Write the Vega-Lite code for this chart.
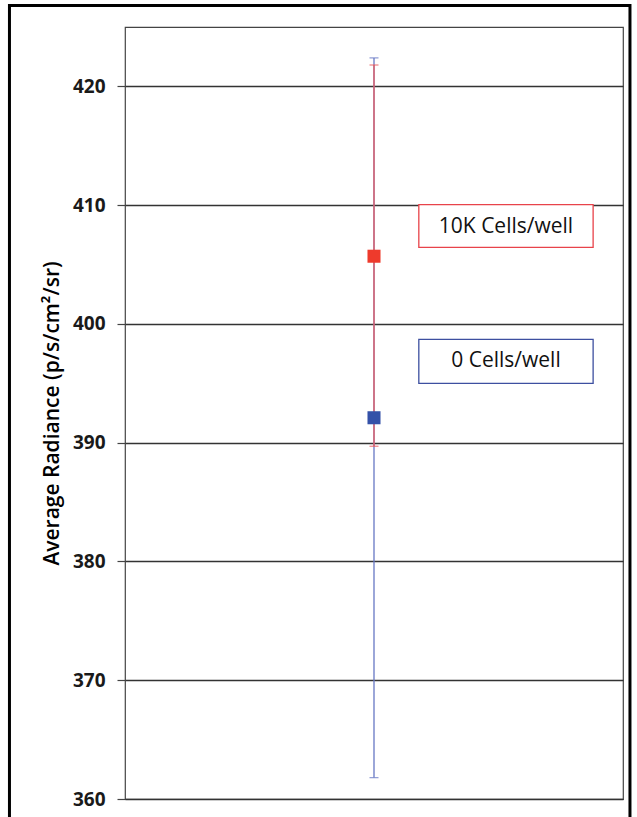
{
  "$schema": "https://vega.github.io/schema/vega-lite/v6.json",
  "width": 498,
  "height": 772,
  "autosize": {"type": "none"},
  "padding": {"left": 125, "top": 27, "right": 14, "bottom": 18},
  "background": "white",
  "config": {
    "view": {"stroke": "#444444", "strokeWidth": 1.2},
    "font": "Open Sans"
  },
  "datasets": {
    "series": [
      {"group": "0 Cells/well", "mean": 392.1, "lo": 361.8, "hi": 422.4, "pos": 0.5},
      {"group": "10K Cells/well", "mean": 405.7, "lo": 389.7, "hi": 421.8, "pos": 0.5}
    ],
    "labels": [
      {"group": "10K Cells/well", "x0": 0.59, "x1": 0.94, "y0": 406.45, "y1": 410.05, "tx": 0.765, "ty": 408.2},
      {"group": "0 Cells/well", "x0": 0.59, "x1": 0.94, "y0": 395.0, "y1": 398.7, "tx": 0.765, "ty": 396.85}
    ],
    "frame": [
      {"x0": -0.232, "x1": 1.014, "y0": 358.0, "y1": 426.8}
    ]
  },
  "layer": [
    {
      "data": {"name": "series"},
      "mark": {"type": "rule", "strokeWidth": 1.3},
      "encoding": {
        "x": {"field": "pos", "type": "quantitative", "scale": {"domain": [0, 1]}, "axis": null},
        "y": {
          "field": "lo", "type": "quantitative",
          "scale": {"domain": [360, 425], "nice": false, "zero": false},
          "axis": {
            "values": [360, 370, 380, 390, 400, 410, 420],
            "title": "Average Radiance (p/s/cm²/sr)",
            "titleFont": "Open Sans",
            "titleFontSize": 21,
            "titleFontWeight": 600,
            "titleColor": "#000000",
            "titlePadding": 10,
            "labelFont": "Open Sans",
            "labelFontSize": 19,
            "labelFontWeight": "bold",
            "labelColor": "#1a1a1a",
            "labelPadding": 12,
            "tickSize": 8,
            "tickColor": "#444444",
            "tickWidth": 1.2,
            "domain": false,
            "grid": true,
            "gridColor": "#333333",
            "gridWidth": 1.4
          }
        },
        "y2": {"field": "hi"},
        "color": {
          "field": "group", "type": "nominal",
          "scale": {"domain": ["0 Cells/well", "10K Cells/well"], "range": ["#6677C4", "#E85A5E"]},
          "legend": null
        }
      }
    },
    {
      "data": {"name": "series"},
      "mark": {"type": "tick", "orient": "horizontal", "size": 9, "thickness": 1.3},
      "encoding": {
        "x": {"field": "pos", "type": "quantitative"},
        "y": {"field": "hi", "type": "quantitative"},
        "color": {"field": "group", "type": "nominal", "legend": null}
      }
    },
    {
      "data": {"name": "series"},
      "mark": {"type": "tick", "orient": "horizontal", "size": 9, "thickness": 1.3},
      "encoding": {
        "x": {"field": "pos", "type": "quantitative"},
        "y": {"field": "lo", "type": "quantitative"},
        "color": {"field": "group", "type": "nominal", "legend": null}
      }
    },
    {
      "data": {"name": "series"},
      "mark": {"type": "square", "size": 170, "opacity": 1, "filled": true},
      "encoding": {
        "x": {"field": "pos", "type": "quantitative"},
        "y": {"field": "mean", "type": "quantitative"},
        "fill": {
          "field": "group", "type": "nominal",
          "scale": {"domain": ["0 Cells/well", "10K Cells/well"], "range": ["#3451A8", "#EE3A2C"]},
          "legend": null
        }
      }
    },
    {
      "data": {"name": "labels"},
      "mark": {"type": "rect", "fill": "white", "strokeWidth": 1.3},
      "encoding": {
        "x": {"field": "x0", "type": "quantitative"},
        "x2": {"field": "x1"},
        "y": {"field": "y0", "type": "quantitative"},
        "y2": {"field": "y1"},
        "stroke": {
          "field": "group", "type": "nominal",
          "scale": {"domain": ["0 Cells/well", "10K Cells/well"], "range": ["#3D4FA0", "#E8434A"]},
          "legend": null
        }
      }
    },
    {
      "data": {"name": "labels"},
      "mark": {"type": "text", "font": "Open Sans", "fontSize": 21, "color": "#111111", "align": "center", "baseline": "middle"},
      "encoding": {
        "x": {"field": "tx", "type": "quantitative"},
        "y": {"field": "ty", "type": "quantitative"},
        "text": {"field": "group", "type": "nominal"}
      }
    },
    {
      "data": {"name": "frame"},
      "mark": {"type": "rect", "fill": null, "fillOpacity": 0, "stroke": "#000000", "strokeWidth": 3, "clip": false},
      "encoding": {
        "x": {"field": "x0", "type": "quantitative"},
        "x2": {"field": "x1"},
        "y": {"field": "y0", "type": "quantitative"},
        "y2": {"field": "y1"}
      }
    }
  ]
}
